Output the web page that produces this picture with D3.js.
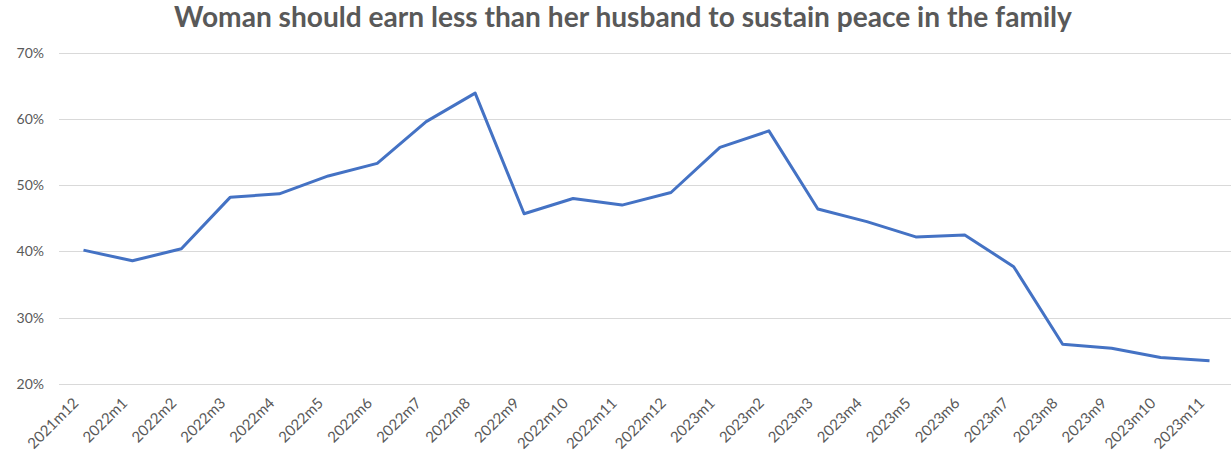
<!DOCTYPE html>
<html>
<head>
<meta charset="utf-8">
<script src="https://cdn.jsdelivr.net/npm/d3@7"></script>
<style>
  body { margin: 0; background: #fff; }
  svg text { font-family: Lato, "Open Sans", sans-serif; fill: #595959; }
  .grid line { stroke: #d9d9d9; stroke-width: 1; }
</style>
</head>
<body>
<svg id="chart" width="1231" height="456"></svg>
<script>
// months shown on the x axis
var months = ['2021m12','2022m1','2022m2','2022m3','2022m4','2022m5','2022m6','2022m7',
	'2022m8','2022m9','2022m10','2022m11','2022m12','2023m1','2023m2','2023m3',
	'2023m4','2023m5','2023m6','2023m7','2023m8','2023m9','2023m10','2023m11'];

// share agreeing, in %
var shares = [40.2, 38.6, 40.4, 48.2, 48.7, 51.4, 53.3, 59.6,
	63.9, 45.7, 48.0, 47.0, 48.9, 55.7, 58.2, 46.4,
	44.5, 42.2, 42.5, 37.7, 26.0, 25.4, 24.0, 23.5];

var yTicks = [20, 30, 40, 50, 60, 70];

var title = 'Woman should earn less than her husband to sustain peace in the family';

var svg = d3.select('#chart');

var plot_left = 59, plot_right = 1234,
	plot_top = 52.7, plot_bottom = 384;

var x = d3.scaleBand().domain(months).range([plot_left, plot_right]);
var y = d3.scaleLinear().domain([20, 70]).range([plot_bottom, plot_top]);

// gridlines
svg.append('g').attr('class','grid')
	.selectAll('line')
	.data(yTicks)
	.enter()
	.append('line')
	.attr('x1', plot_left).attr('x2', plot_right)
	.attr('y1', d => Math.round(y(d)) + 0.5)
	.attr('y2', d => Math.round(y(d)) + 0.5);

// y labels
svg.append('g')
	.selectAll('text')
	.data(yTicks)
	.enter()
	.append('text')
	.attr('x', 44)
	.attr('y', d => y(d) + 5)
	.attr('text-anchor','end')
	.style('font-size','14px')
	.text(d => d + '%');

// x labels, rotated
svg.append('g')
	.selectAll('text')
	.data(months)
	.enter()
	.append('text')
	.attr('text-anchor','end')
	.attr('transform', d => 'translate(' + (x(d) + x.bandwidth()/2 - 4) + ',' + 404 + ') rotate(-45)')
	.style('font-size','15px')
	.text(d => d);

// the series
var line = d3.line()
	.x((d, i) => x(months[i]) + x.bandwidth()/2)
	.y(d => y(d));

svg.append('path')
	.datum(shares)
	.attr('d', line)
	.attr('fill','none')
	.attr('stroke','#4472c4')
	.attr('stroke-width', 3)
	.attr('stroke-linejoin','round');

// title, squeezed to the width it has in the picture
var t = svg.append('text')
	.attr('x', 623)
	.attr('y', 27)
	.attr('text-anchor','middle')
	.style('font-size','24px')
	.style('font-weight','bold')
	.text(title);
var w = t.node().getComputedTextLength();
t.style('font-size', (24 * 898 / w) + 'px');
</script>
</body>
</html>
